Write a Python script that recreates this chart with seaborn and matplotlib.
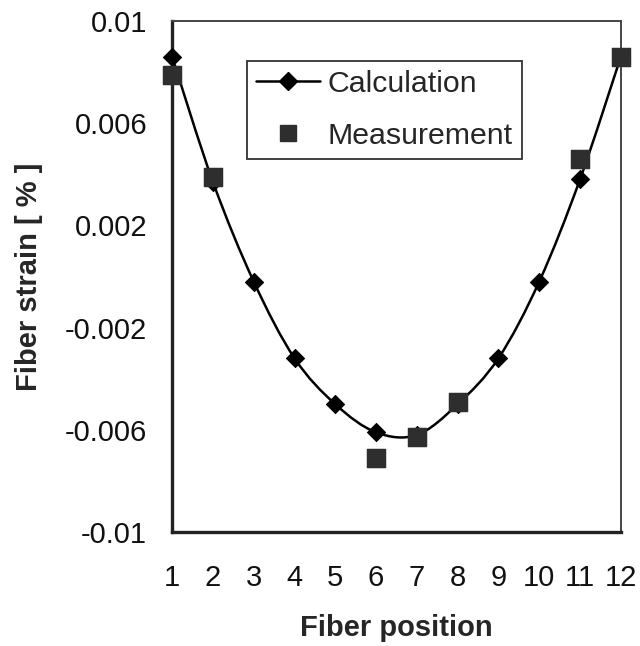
import matplotlib
matplotlib.use("Agg")
import matplotlib.pyplot as plt
import seaborn as sns
import numpy as np
import pandas as pd
from matplotlib.path import Path
from matplotlib.patches import PathPatch
from matplotlib.lines import Line2D

# data
positions = [1, 2, 3, 4, 5, 6, 7, 8, 9, 10, 11, 12]
calculation = [0.0086, 0.0037, -0.0002, -0.0032, -0.0050, -0.0061,
               -0.0062, -0.0050, -0.0032, -0.0002, 0.0038, 0.0086]
meas_positions = [1, 2, 6, 7, 8, 11, 12]
measurement = [0.0079, 0.0039, -0.0071, -0.0063, -0.0049, 0.0046, 0.0086]
y_ticks = [-0.01, -0.006, -0.002, 0.002, 0.006, 0.01]
y_ticklabels = ["-0.01", "-0.006", "-0.002", "0.002", "0.006", "0.01"]

sns.set_style("white")
plt.rcParams['font.family'] = ['Liberation Sans', 'DejaVu Sans']
FS = 21

fig = plt.figure(figsize=(6.4, 6.46), dpi=100)
ax = fig.add_axes([0.269, 0.1765, 0.701, 0.791])

calc_df = pd.DataFrame({"pos": positions, "strain": calculation})
meas_df = pd.DataFrame({"pos": meas_positions, "strain": measurement})

# smoothed line (excel style bezier through the calculated points)
pts = np.column_stack([positions, calculation]).astype(float)
verts = [tuple(pts[0])]
codes = [Path.MOVETO]
n = len(pts)
for i in range(n - 1):
    p0 = pts[i - 1] if i > 0 else pts[i]
    p1 = pts[i]
    p2 = pts[i + 1]
    p3 = pts[i + 2] if i + 2 < n else pts[i + 1]
    c1 = p1 + (p2 - p0) / 6.0
    c2 = p2 - (p3 - p1) / 6.0
    verts += [tuple(c1), tuple(c2), tuple(p2)]
    codes += [Path.CURVE4, Path.CURVE4, Path.CURVE4]
ax.add_patch(PathPatch(Path(verts, codes), facecolor="none",
                       edgecolor="black", lw=1.8, zorder=2))

sns.scatterplot(data=calc_df, x="pos", y="strain", marker="D", s=85,
                color="black", edgecolor="black", ax=ax, zorder=3,
                clip_on=False)
sns.scatterplot(data=meas_df, x="pos", y="strain", marker="s", s=175,
                color="#2e2e2e", edgecolor="#2e2e2e", ax=ax, zorder=4,
                clip_on=False)

ax.set_xlim(1, 12)
ax.set_ylim(-0.01, 0.01)
ax.set_xticks(positions)
ax.set_xticklabels([str(p) for p in positions])
ax.set_yticks(y_ticks)
ax.set_yticklabels(y_ticklabels)
ax.tick_params(axis="both", direction="out", length=6, width=1.3,
               labelsize=FS, colors="#111111")
ax.tick_params(axis="y", pad=12)
ax.tick_params(axis="x", pad=17)

for side in ["left", "bottom"]:
    ax.spines[side].set_color("#222222")
    ax.spines[side].set_linewidth(2.4)
for side in ["top", "right"]:
    ax.spines[side].set_color("#444444")
    ax.spines[side].set_linewidth(1.4)

ax.set_xlabel("Fiber position", fontsize=FS, fontweight="bold", labelpad=16)
ax.set_ylabel("Fiber strain [ % ]", fontsize=FS, fontweight="bold", labelpad=16)

handles = [
    Line2D([0], [0], color="black", lw=1.8, marker="D", markersize=9),
    Line2D([0], [0], color="#2e2e2e", lw=0, marker="s", markersize=12),
]
leg = ax.legend(handles, ["Calculation", "Measurement"], loc="upper left",
                bbox_to_anchor=(0.167, 0.922), frameon=True,
                prop={"size": 21.8}, fancybox=False, edgecolor="black",
                handlelength=2.1, handletextpad=0.25, borderpad=0.3,
                labelspacing=0.78, borderaxespad=0)
leg.get_frame().set_linewidth(1.3)

fig.savefig("out.png", dpi=100, facecolor="white")
